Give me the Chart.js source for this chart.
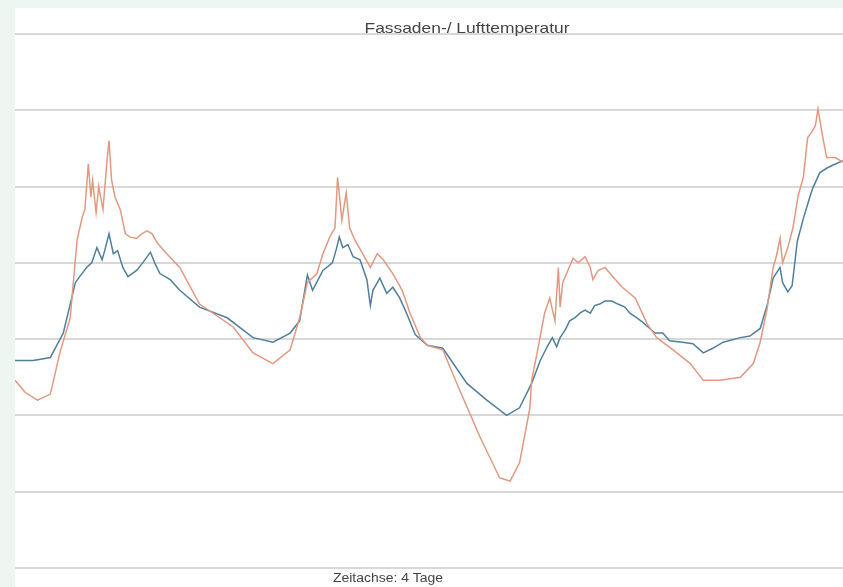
<!DOCTYPE html>
<html>
<head>
<meta charset="utf-8">
<script src="https://cdn.jsdelivr.net/npm/chart.js@4"></script>
<style>
  html, body { margin: 0; padding: 0; background: #eef6f1; }
  #box { position: absolute; left: 15px; top: 8px; width: 828px; height: 579px; background: #fff; }
</style>
</head>
<body>
<div id="box"><canvas id="chart" width="828" height="579"></canvas></div>
<script>
// Zeit in Stunden (4 Tage), Temperaturen in °C
var tFassade = [0, 1.2, 2.6, 4.1, 5.2, 6.4, 7.2, 7.8, 8.1, 8.5, 8.8, 9.0, 9.4, 9.7, 10.2, 10.7, 10.9, 11.2, 11.6, 12.2,
  12.8, 13.3, 14.1, 14.7, 15.3, 15.9, 16.5, 17.6, 19.1, 21.4, 25.3, 27.6, 29.9, 31.9, 33.0, 33.9, 35.0, 35.7, 36.5, 37.1,
  37.4, 37.9, 38.4, 38.8, 39.4, 40.3, 41.2, 42.0, 42.7, 43.8, 44.9, 45.8, 47.0, 47.8, 49.6, 51.6, 53.9, 56.2, 57.4, 58.5,
  59.7, 59.9, 60.6, 61.4, 62.0, 62.6, 63.0, 63.2, 63.5, 64.1, 64.7, 65.3, 66.1, 66.7, 67.0, 67.6, 68.4, 69.3, 70.4, 71.9,
  73.3, 74.4, 76.3, 78.3, 79.8, 81.7, 84.1, 85.6, 86.4, 87.2, 87.9, 88.3, 88.7, 89.0, 89.6, 90.2, 90.8, 91.4, 91.9, 92.4,
  92.8, 93.1, 93.6, 94.1, 95.1, 96];
var fassade = [2.3, 1.5, 1.0, 1.4, 4.1, 6.4, 11.5, 13.0, 13.5, 16.5, 14.3, 15.4, 13.3, 15.0, 13.5, 16.9, 18.0, 15.4, 14.3, 13.5,
  11.9, 11.7, 11.6, 11.9, 12.1, 11.9, 11.3, 10.6, 9.7, 7.3, 5.8, 4.1, 3.4, 4.3, 6.4, 8.7, 9.3, 10.6, 11.7, 12.3,
  15.6, 12.8, 14.6, 12.3, 11.5, 10.6, 9.7, 10.6, 10.2, 9.3, 8.2, 6.7, 5.1, 4.6, 4.3, 1.6, -1.4, -4.1, -4.3, -3.1,
  0.5, 2.3, 4.3, 6.7, 7.7, 6.2, 9.7, 7.1, 8.7, 9.5, 10.3, 10.0, 10.4, 9.7, 8.9, 9.5, 9.7, 9.1, 8.4, 7.7,
  6.0, 5.1, 4.3, 3.4, 2.3, 2.3, 2.5, 3.4, 4.8, 7.0, 9.7, 10.5, 11.6, 10.0, 11.0, 12.3, 14.4, 15.6, 18.2, 18.6,
  19.0, 20.1, 18.4, 16.9, 16.9, 16.6];

var tLuft = [0, 2.1, 4.1, 5.6, 7.0, 7.5, 8.3, 8.9, 9.5, 10.1, 10.4, 10.9, 11.4, 11.9, 12.5, 13.1, 14.1, 14.8, 15.7, 16.2,
  16.8, 18.0, 19.1, 21.4, 24.6, 27.6, 29.9, 31.9, 33.0, 33.9, 34.5, 35.7, 36.8, 37.3, 37.6, 38.0, 38.6, 39.2, 40.0, 40.8,
  41.2, 41.5, 42.3, 43.1, 43.8, 44.6, 45.4, 46.4, 47.8, 49.6, 52.4, 54.7, 57.0, 58.5, 59.9, 60.9, 61.7, 62.3, 62.8, 63.2,
  63.8, 64.3, 64.9, 65.5, 66.1, 66.7, 67.2, 67.8, 68.4, 69.2, 69.9, 70.7, 71.3, 72.1, 72.8, 73.6, 74.2, 75.1, 75.9, 77.4,
  78.6, 79.8, 80.9, 82.1, 84.1, 85.2, 86.4, 87.2, 87.9, 88.7, 89.0, 89.6, 90.1, 90.7, 91.4, 92.2, 92.5, 93.3, 94.1, 94.8,
  96];
var luft = [3.6, 3.6, 3.8, 5.4, 8.7, 9.1, 9.7, 10.0, 11.0, 10.2, 10.8, 11.9, 10.6, 10.8, 9.7, 9.1, 9.5, 10.0, 10.7, 10.0,
  9.3, 8.9, 8.2, 7.1, 6.4, 5.1, 4.8, 5.4, 6.2, 9.2, 8.2, 9.5, 10.0, 11.0, 11.7, 11.0, 11.2, 10.4, 10.2, 8.9,
  7.2, 8.2, 9.0, 8.0, 8.4, 7.7, 6.7, 5.3, 4.6, 4.4, 2.1, 1.0, 0.0, 0.5, 2.1, 3.6, 4.5, 5.1, 4.5, 5.1,
  5.6, 6.2, 6.4, 6.7, 6.9, 6.7, 7.2, 7.3, 7.5, 7.5, 7.3, 7.1, 6.7, 6.4, 6.1, 5.7, 5.4, 5.4, 4.9, 4.8,
  4.7, 4.1, 4.4, 4.8, 5.1, 5.2, 5.7, 7.2, 9.0, 9.7, 8.7, 8.1, 8.5, 11.4, 12.9, 14.4, 14.9, 15.9, 16.2, 16.4,
  16.7];

var yTicks = [-10, -5, 0, 5, 10, 15, 20, 25];
var titel = 'Fassaden-/ Lufttemperatur';
var xTitel = 'Zeitachse: 4 Tage';

function toPoints(t, v) {
  return t.map(function (x, i) { return { x: x, y: v[i] }; });
}

// schmal gesetzter Text, auf die Breite im Original gestaucht
function narrowText(ctx, text, cx, baseY, size, width) {
  ctx.font = size + 'px "Liberation Sans", Arial, sans-serif';
  var w = ctx.measureText(text).width;
  ctx.save();
  ctx.translate(cx, baseY);
  ctx.scale(width / w, 1);
  ctx.fillText(text, 0, 0);
  ctx.restore();
}

var labels = {
  id: 'labels',
  afterDraw: function (chart) {
    var ctx = chart.ctx;
    ctx.save();
    ctx.fillStyle = '#444';
    ctx.textAlign = 'center';
    ctx.textBaseline = 'alphabetic';
    narrowText(ctx, titel, 452, 25, 15, 205);
    narrowText(ctx, xTitel, 373, 574, 12.5, 110);
    ctx.restore();
  }
};

new Chart(document.getElementById('chart'), {
  type: 'line',
  data: {
    datasets: [{
      label: 'Fassade',
      data: toPoints(tFassade, fassade),
      borderColor: '#e39880',
      borderWidth: 1.5,
      pointRadius: 0,
      tension: 0
    }, {
      label: 'Luft',
      data: toPoints(tLuft, luft),
      borderColor: '#4f7f9c',
      borderWidth: 1.5,
      pointRadius: 0,
      tension: 0
    }]
  },
  options: {
    responsive: false,
    animation: false,
    devicePixelRatio: 1,
    layout: { padding: { top: 26, bottom: 19, left: 0, right: 0 } },
    plugins: { legend: { display: false }, tooltip: { enabled: false } },
    scales: {
      x: { type: 'linear', min: 0, max: 96, display: false },
      y: {
        min: yTicks[0], max: yTicks[yTicks.length - 1],
        afterBuildTicks: function (s) { s.ticks = yTicks.map(function (v) { return { value: v }; }); },
        ticks: { display: false },
        border: { display: false },
        grid: { color: '#d8d8d8', lineWidth: 2, drawTicks: false }
      }
    }
  },
  plugins: [labels]
});
</script>
</body>
</html>
